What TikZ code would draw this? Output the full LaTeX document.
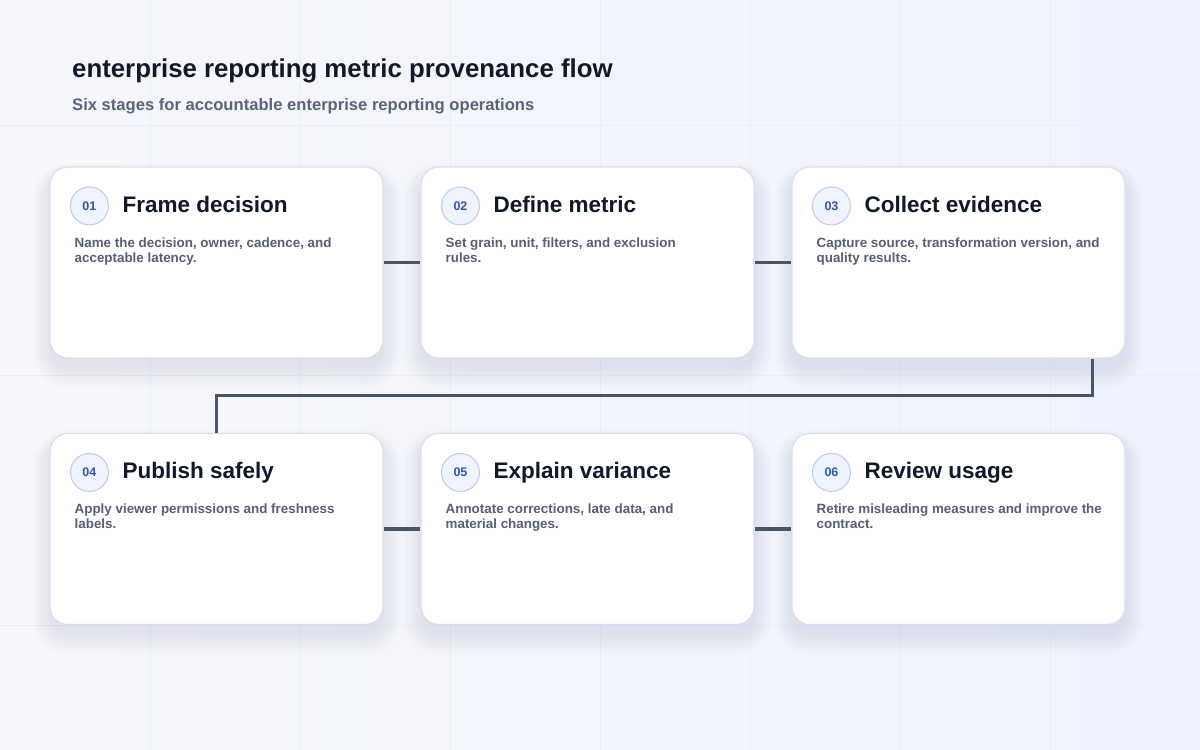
\documentclass[tikz,border=0pt]{standalone}
\usepackage{fontspec}
\setmainfont{Liberation Sans}
\definecolor{bgA}{HTML}{F6F7FB}
\definecolor{bgB}{HTML}{EDF2FC}
\definecolor{gridc}{HTML}{E9EDF5}
\definecolor{cardline}{HTML}{D9DFEA}
\definecolor{shadowc}{HTML}{8895B5}
\definecolor{conncol}{HTML}{4A5568}
\definecolor{titlec}{HTML}{111827}
\definecolor{subc}{HTML}{5A6478}
\definecolor{bodyc}{HTML}{566073}
\definecolor{badgefill}{HTML}{EEF3FD}
\definecolor{badgeline}{HTML}{C3CFE5}
\definecolor{badgetext}{HTML}{3556A6}
\tikzset{
  card/.style={draw=cardline, line width=1.1pt, fill=white, rounded corners=18pt,
    minimum width=333pt, minimum height=191pt, inner sep=0pt},
  conn/.style={draw=conncol, line width=3.6pt},
  badge/.style={circle, draw=badgeline, line width=1.1pt, fill=badgefill,
    minimum size=38pt, inner sep=0pt, text=badgetext,
    font=\fontsize{12.5}{14}\selectfont\bfseries},
  ctitle/.style={anchor=base west, inner sep=0pt, text=titlec,
    font=\fontsize{22.5}{26}\selectfont\bfseries},
  cbody/.style={anchor=north west, inner sep=0pt, align=left, text=bodyc,
    font=\fontsize{13.4}{15}\selectfont\bfseries},
}
\newcommand{\cardshadow}[2]{%
  \foreach \i in {0,...,9}{
    \fill[shadowc, opacity=0.016, rounded corners=18pt+\i*2pt]
      (#1-166.5-\i*2, #2-95.5+10-\i*1.5) rectangle (#1+166.5+\i*2, #2+95.5+10+\i*2.2);
  }%
}
\begin{document}
\begin{tikzpicture}[x=1pt,y=-1pt]
\useasboundingbox (0,0) rectangle (1200,750);
\shade[left color=bgA, right color=bgB] (0,0) rectangle (1200,750);
\foreach \gx in {150,300,...,1050} \draw[gridc, line width=0.6pt] (\gx,0) -- (\gx,750);
\foreach \gy in {125,375,625} \draw[gridc, line width=0.6pt] (0,\gy) -- (1200,\gy);

\node[anchor=base west, inner sep=0pt, text=titlec, font=\fontsize{25.8}{30}\selectfont\bfseries] (title) at (72,77) {enterprise reporting metric provenance flow};
\node[anchor=base west, inner sep=0pt, text=subc, font=\fontsize{16.6}{19}\selectfont\bfseries] (subtitle) at (72,110) {Six stages for accountable enterprise reporting operations};

\cardshadow{216.5}{262.5}
\cardshadow{587.5}{262.5}
\cardshadow{958.5}{262.5}
\cardshadow{216.5}{529}
\cardshadow{587.5}{529}
\cardshadow{958.5}{529}

\node[card] (c1) at (216.5,262.5) {};
\node[card] (c2) at (587.5,262.5) {};
\node[card] (c3) at (958.5,262.5) {};
\node[card] (c4) at (216.5,529) {};
\node[card] (c5) at (587.5,529) {};
\node[card] (c6) at (958.5,529) {};

\draw[conn] (c1.east) -- (c2.west);
\draw[conn] (c2.east) -- (c3.west);
\draw[conn] (c4.east) -- (c5.west);
\draw[conn] (c5.east) -- (c6.west);
\draw[conn] ([xshift=-33pt]c3.south east) -- ++(0,37) -| (c4.north);

\foreach \n/\num/\ttl/\body in {
  c1/01/Frame decision/{Name the decision, owner, cadence, and\\acceptable latency.},
  c2/02/Define metric/{Set grain, unit, filters, and exclusion\\rules.},
  c3/03/Collect evidence/{Capture source, transformation version, and\\quality results.},
  c4/04/Publish safely/{Apply viewer permissions and freshness\\labels.},
  c5/05/Explain variance/{Annotate corrections, late data, and\\material changes.},
  c6/06/Review usage/{Retire misleading measures and improve the\\contract.}}{
  \node[badge] (\n b) at ([xshift=40pt,yshift=-39.5pt]\n.north west) {\num};
  \node[ctitle] (\n t) at ([xshift=73pt,yshift=-46pt]\n.north west) {\ttl};
  \node[cbody] (\n d) at ([xshift=25pt,yshift=-71pt]\n.north west) {\body};
}
\end{tikzpicture}
\end{document}
